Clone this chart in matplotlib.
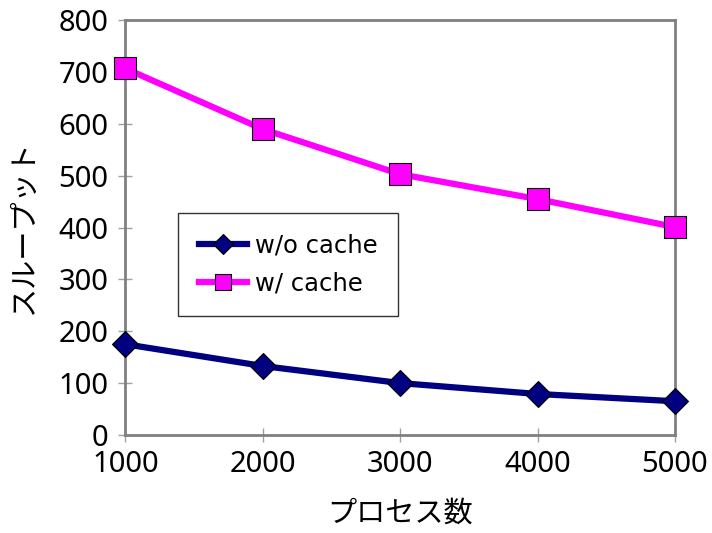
import matplotlib
matplotlib.use("Agg")
import matplotlib.pyplot as plt

plt.rcParams['font.family'] = ['Noto Sans CJK JP', 'DejaVu Sans']

processes = [1000, 2000, 3000, 4000, 5000]
without_cache = [175, 133, 100, 79, 65]
with_cache = [707, 590, 503, 455, 401]
series_names = ['w/o cache', 'w/ cache']
x_label = 'プロセス数'
y_label = 'スループット'
y_ticks = [0, 100, 200, 300, 400, 500, 600, 700, 800]

fig = plt.figure(figsize=(7.12, 5.33), dpi=100)
ax = fig.add_axes([0.176, 0.184, 0.772, 0.778])

ax.plot(processes, without_cache, color='#000080', lw=4.5, marker='D',
        markersize=13, markerfacecolor='#000080', markeredgecolor='black',
        markeredgewidth=0.8, label=series_names[0], clip_on=False, zorder=3)
ax.plot(processes, with_cache, color='#FF00FF', lw=4.5, marker='s',
        markersize=16, markerfacecolor='#FF00FF', markeredgecolor='black',
        markeredgewidth=0.8, label=series_names[1], clip_on=False, zorder=3)

ax.set_xlim(1000, 5000)
ax.set_ylim(0, 800)
ax.set_xticks(processes)
ax.set_yticks(y_ticks)
ax.tick_params(axis='both', direction='inout', length=10, width=1,
               color='#A0A0A0', labelsize=21, labelfontfamily='Noto Sans')
ax.tick_params(axis='x', pad=6)
ax.tick_params(axis='y', pad=7)
for s in ax.spines.values():
    s.set_color('#808080')
    s.set_linewidth(2)

ax.set_xlabel(x_label, fontsize=21, labelpad=14)
ax.set_ylabel(y_label, fontsize=21, labelpad=14)

leg = ax.legend(loc='upper left', bbox_to_anchor=(0.096, 0.535),
                prop={'family': 'DejaVu Sans', 'size': 17.5},
                frameon=True, fancybox=False, edgecolor='black',
                borderpad=0.85, handlelength=2.0, handletextpad=0.3,
                labelspacing=0.55, markerscale=0.75, borderaxespad=0)
leg.get_frame().set_linewidth(1)

fig.savefig('out.png', dpi=100)
